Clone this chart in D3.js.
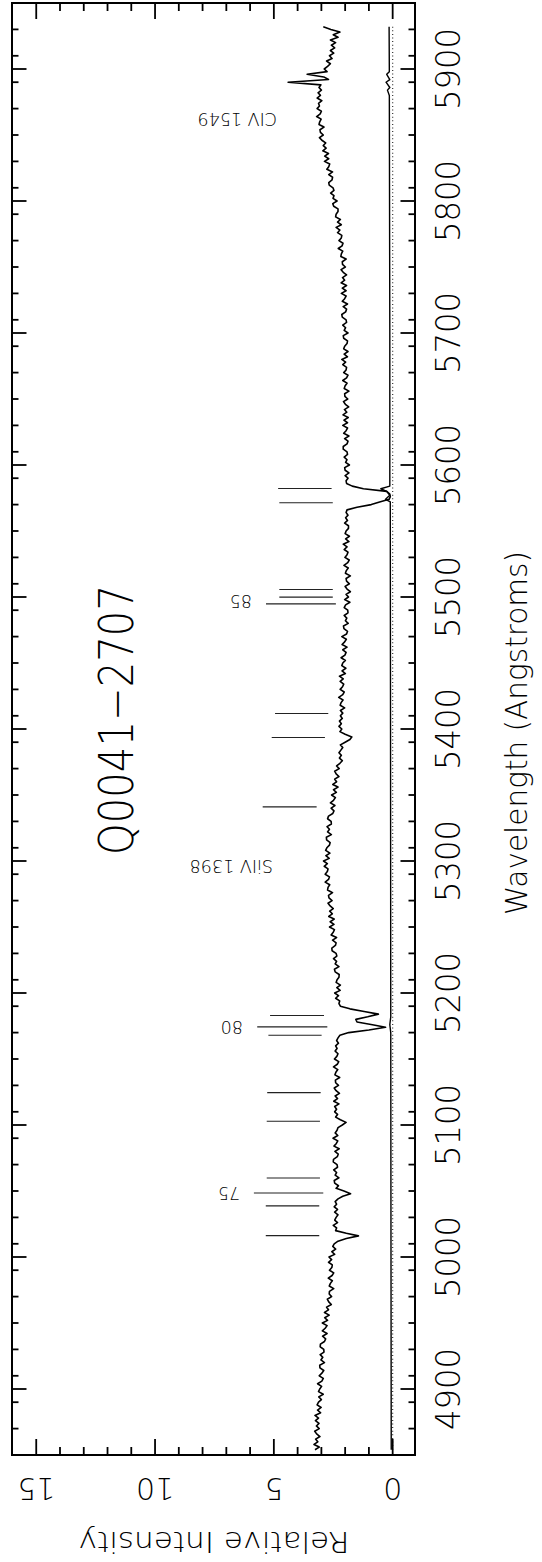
<!DOCTYPE html>
<html>
<head>
<meta charset="utf-8">
<script src="https://cdn.jsdelivr.net/npm/d3@7/dist/d3.min.js"></script>
<style>
  html, body { margin: 0; padding: 0; background: #fff; }
  svg { display: block; }
  text { font-family: "DejaVu Sans ExtraLight", "DejaVu Sans", "Liberation Sans", sans-serif; font-weight: 200; fill: #000; }
</style>
</head>
<body>
<svg id="chart" width="542" height="1562"></svg>
<script>
// ---------------- data ----------------
const titleText = "Q0041\u22122707";
const xAxisTitle = "Wavelength (Angstroms)";
const yAxisTitle = "Relative  Intensity";

const waveDomain = [4850, 5950];
const intensDomain = [-0.94, 16.02];
const waveMajorTicks = [4900, 5000, 5100, 5200, 5300, 5400, 5500, 5600, 5700, 5800, 5900];
const waveMinorStep = 20;
const intensMajorTicks = [0, 5, 10, 15];
const intensMinorStep = 1;

// spectrum: first wavelength and sampling step (Angstrom), then flux values
const waveStart = 4854;
const waveStep = 2;
const flux = [
  3.27,3.09,3.31,3.15,3.24,3.06,3.20,3.28,3.09,3.21,
  3.10,3.25,3.12,3.27,3.03,3.16,3.01,3.18,3.12,3.00,
  3.11,2.92,3.12,3.07,2.99,3.16,2.98,2.92,3.09,2.98,
  2.90,3.06,3.07,2.87,3.02,2.94,3.05,2.89,2.90,3.05,
  3.04,2.87,2.82,2.95,2.76,2.96,2.84,2.76,2.96,2.74,
  2.86,2.67,2.87,2.70,2.78,2.58,2.69,2.75,2.57,2.67,
  2.66,2.48,2.67,2.62,2.54,2.71,2.55,2.48,2.66,2.56,
  2.54,2.70,2.57,2.68,2.44,2.56,2.40,2.52,2.46,2.30,
  1.95,1.44,1.95,2.40,2.36,2.50,2.32,2.44,2.38,2.30,
  2.44,2.32,2.46,2.36,2.42,2.30,2.10,1.77,2.05,2.38,
  2.28,2.44,2.46,2.26,2.42,2.36,2.48,2.32,2.34,2.50,
  2.49,2.33,2.29,2.43,2.25,2.47,2.37,2.31,2.51,2.31,
  2.42,2.34,2.30,2.12,1.96,2.20,2.40,2.32,2.44,2.36,
  2.44,2.26,2.48,2.32,2.42,2.24,2.38,2.46,2.28,2.40,
  2.41,2.23,2.43,2.39,2.31,2.49,2.33,2.27,2.45,2.35,
  2.30,2.42,2.34,2.40,2.28,2.36,2.30,2.22,1.85,1.00,
  0.30,0.85,1.50,1.55,1.05,0.60,1.20,1.80,2.20,2.26,
  2.23,2.40,2.28,2.44,2.21,2.35,2.20,2.38,2.34,2.26,
  2.25,2.42,2.45,2.26,2.42,2.36,2.49,2.35,2.38,2.55,
  2.56,2.41,2.38,2.53,2.36,2.59,2.50,2.45,2.66,2.47,
  2.63,2.46,2.69,2.54,2.65,2.50,2.63,2.72,2.55,2.68,
  2.70,2.53,2.74,2.72,2.65,2.84,2.70,2.66,2.84,2.75,
  2.72,2.88,2.75,2.91,2.67,2.81,2.64,2.82,2.77,2.66,
  2.63,2.78,2.79,2.58,2.74,2.66,2.76,2.58,2.59,2.74,
  2.70,2.52,2.47,2.59,2.43,2.62,2.49,2.41,2.57,2.37,
  2.49,2.30,2.52,2.36,2.44,2.26,2.38,2.44,2.25,2.36,
  2.22,2.12,2.24,2.16,2.26,2.18,2.10,2.20,2.00,1.80,
  1.72,2.00,2.22,2.14,2.26,2.16,2.24,2.12,2.20,2.10,
  2.20,2.02,2.21,2.17,2.09,2.27,2.10,2.04,2.21,2.11,
  2.06,2.21,2.08,2.24,1.99,2.13,1.97,2.14,2.10,1.99,
  2.17,2.01,1.96,2.10,1.92,2.13,2.02,1.95,2.14,1.94,
  1.90,2.05,2.07,1.87,1.99,1.93,2.04,1.88,1.89,2.04,
  1.98,1.80,2.02,1.86,1.96,1.78,1.92,2.00,1.82,1.94,
  1.96,1.78,1.99,1.95,1.87,2.05,1.89,1.83,2.01,1.92,
  1.88,2.04,1.92,2.08,1.84,1.98,1.82,2.00,1.96,1.86,
  1.86,2.02,1.90,1.98,1.88,1.96,1.92,1.50,0.90,0.55,
  0.15,0.10,0.12,0.25,1.23,1.70,1.94,1.96,1.88,2.00,
  1.84,2.00,2.02,1.82,1.98,1.92,2.04,1.90,1.92,2.08,
  2.08,1.92,1.88,2.02,1.84,2.06,1.96,1.90,2.10,1.90,
  2.05,1.87,2.09,1.93,2.03,1.85,1.99,2.07,1.89,2.01,
  2.02,1.84,2.04,2.00,1.92,2.10,1.94,1.88,2.06,1.96,
  1.94,2.10,1.98,2.14,1.90,2.04,1.88,2.06,2.02,1.92,
  1.90,2.06,2.08,1.88,2.04,1.98,2.10,1.94,1.96,2.12,
  2.14,1.98,1.94,2.08,1.90,2.12,2.02,1.96,2.16,1.96,
  2.12,1.94,2.17,2.02,2.11,1.94,2.08,2.17,1.99,2.11,
  2.12,1.96,2.18,2.16,2.10,2.29,2.13,2.09,2.26,2.16,
  2.14,2.32,2.22,2.38,2.16,2.32,2.20,2.40,2.38,2.30,
  2.30,2.48,2.52,2.34,2.51,2.47,2.61,2.47,2.51,2.67,
  2.69,2.55,2.53,2.69,2.53,2.77,2.69,2.65,2.87,2.69,
  2.86,2.70,2.94,2.80,2.92,2.82,2.98,3.08,2.92,3.04,
  3.06,2.89,3.10,3.07,3.01,3.20,3.05,3.00,3.18,3.08,
  3.12,2.98,3.18,3.04,3.14,3.00,3.10,3.02,4.40,2.70,
  2.90,3.60,2.76,2.88,2.74,2.62,2.78,2.55,2.66,2.48,
  2.62,2.44,2.58,2.40,2.62,2.30,2.50,2.22,2.60,2.92
];

// error (sigma) spectrum
const errWave = [4854, 5000, 5170, 5176, 5182, 5400, 5560, 5572, 5574, 5577, 5580, 5582, 5584, 5700, 5880, 5884, 5886, 5890, 5892, 5896, 5898, 5932];
const errVals = [0.06, 0.07, 0.08, 0.12, 0.08, 0.09, 0.10, 0.10, 0.30, 0.12, 0.25, 0.50, 0.12, 0.12, 0.14, 0.22, 0.12, 0.28, 0.12, 0.25, 0.14, 0.15];

// absorption line markers (wavelength, low and high intensity of tick)
const markerWave = [5016.2, 5038.7, 5048.5, 5059.9, 5102.8, 5124.5, 5168.0, 5174.3, 5182.9, 5341.0, 5393.6, 5411.7, 5494.8, 5499.9, 5505.7, 5571.4, 5582.2];
const markerLow  = [3.09, 3.09, 2.92, 3.06, 3.06, 3.03, 2.99, 2.75, 2.89, 3.20, 2.85, 2.71, 2.39, 2.52, 2.52, 2.52, 2.57];
const markerHigh = [5.34, 5.34, 5.84, 5.30, 5.30, 5.28, 5.23, 5.70, 5.16, 5.47, 5.09, 4.95, 5.33, 4.77, 4.77, 4.77, 4.82];

// line identification labels
const labelText  = ["CIV 1549", "SiIV 1398", "85", "80", "75"];
const labelWave  = [5862, 5296, 5497, 5174.3, 5048.5];
const labelLevel = [4.87, 5.04, 5.92, 6.30, 6.42];

// ---------------- drawing ----------------
const svg = d3.select("#chart");
const frame = { left: 12, right: 415, top: 3, bottom: 1455 };

// wavelength runs up the page, intensity runs right-to-left
const yW = d3.scaleLinear().domain(waveDomain).range([frame.bottom, frame.top]);
const xI = d3.scaleLinear().domain(intensDomain).range([frame.right, frame.left]);

svg.append("rect").attr("width", 542).attr("height", 1562).attr("fill", "#fff");

const spec = flux.map((f, i) => ({ w: waveStart + i * waveStep, f }));
const err = errWave.map((w, i) => ({ w, f: errVals[i] }));
const line = d3.line().x(d => xI(d.f)).y(d => yW(d.w));

// zero level dotted line
svg.append("line")
  .attr("x1", xI(0)).attr("x2", xI(0))
  .attr("y1", yW(spec[0].w)).attr("y2", yW(spec[spec.length - 1].w))
  .attr("stroke", "#333").attr("stroke-width", 1.2)
  .attr("stroke-dasharray", "1 2.6");

// error spectrum
svg.append("path").datum(err).attr("d", line)
  .attr("fill", "none").attr("stroke", "#000").attr("stroke-width", 1.4)
  .attr("stroke-linejoin", "round");

// spectrum
svg.append("path").datum(spec).attr("d", line)
  .attr("fill", "none").attr("stroke", "#000").attr("stroke-width", 1.6)
  .attr("stroke-linejoin", "round");

// markers
svg.append("g").selectAll("line").data(markerWave).join("line")
  .attr("x1", (w, i) => xI(markerLow[i])).attr("x2", (w, i) => xI(markerHigh[i]))
  .attr("y1", w => yW(w)).attr("y2", w => yW(w))
  .attr("stroke", "#222").attr("stroke-width", 1.1);

// labels (upside-down)
svg.append("g").selectAll("text").data(labelText).join("text")
  .attr("transform", (t, i) => `translate(${xI(labelLevel[i])},${yW(labelWave[i])}) rotate(180)`)
  .attr("dy", "0.36em")
  .attr("text-anchor", "start")
  .style("font-size", "17.5px")
  .text(t => t);

// frame
svg.append("rect")
  .attr("x", frame.left).attr("y", frame.top)
  .attr("width", frame.right - frame.left).attr("height", frame.bottom - frame.top)
  .attr("fill", "none").attr("stroke", "#000").attr("stroke-width", 2);

// wavelength ticks (left and right edges)
const waveMinor = d3.range(waveDomain[0] + waveMinorStep, waveDomain[1], waveMinorStep)
  .filter(v => !waveMajorTicks.includes(v));
const tg = svg.append("g").attr("stroke", "#000").attr("stroke-width", 1.8);
function waveTicks(vals, len) {
  vals.forEach(v => {
    tg.append("line").attr("x1", frame.left).attr("x2", frame.left + len).attr("y1", yW(v)).attr("y2", yW(v));
    tg.append("line").attr("x1", frame.right).attr("x2", frame.right - len).attr("y1", yW(v)).attr("y2", yW(v));
  });
}
waveTicks(waveMinor, 6.5);
waveTicks(waveMajorTicks, 14.5);

// intensity ticks (top and bottom edges)
const intensMinor = d3.range(Math.ceil(intensDomain[0]), Math.floor(intensDomain[1]) + 1, intensMinorStep)
  .filter(v => !intensMajorTicks.includes(v) && xI(v) > frame.left + 2 && xI(v) < frame.right - 2);
function intensTicks(vals, len) {
  vals.forEach(v => {
    tg.append("line").attr("x1", xI(v)).attr("x2", xI(v)).attr("y1", frame.top).attr("y2", frame.top + len);
    tg.append("line").attr("x1", xI(v)).attr("x2", xI(v)).attr("y1", frame.bottom).attr("y2", frame.bottom - len);
  });
}
intensTicks(intensMinor, 8);
intensTicks(intensMajorTicks, 16);

// wavelength tick labels (rotated -90)
svg.append("g").selectAll("text").data(waveMajorTicks).join("text")
  .attr("transform", v => `translate(460,${yW(v)}) rotate(-90)`)
  .attr("text-anchor", "middle")
  .attr("textLength", 82).attr("lengthAdjust", "spacingAndGlyphs")
  .style("font-size", "34px")
  .text(v => v);

// intensity tick labels (upside-down)
svg.append("g").selectAll("text").data(intensMajorTicks).join("text")
  .attr("transform", v => `translate(${xI(v)},1478) rotate(180)`)
  .attr("text-anchor", "middle")
  .style("font-size", "30px")
  .text(v => v);

// axis titles
svg.append("text")
  .attr("transform", "translate(527,733) rotate(-90)")
  .attr("text-anchor", "middle")
  .attr("textLength", 364).attr("lengthAdjust", "spacingAndGlyphs")
  .style("font-size", "31px")
  .text(xAxisTitle);

svg.append("text")
  .attr("transform", "translate(214,1532) rotate(180)")
  .attr("text-anchor", "middle")
  .attr("textLength", 271).attr("lengthAdjust", "spacingAndGlyphs")
  .style("font-size", "29px")
  .text(yAxisTitle);

// object name
svg.append("text")
  .attr("transform", "translate(133,720) rotate(-90)")
  .attr("text-anchor", "middle")
  .attr("textLength", 270).attr("lengthAdjust", "spacingAndGlyphs")
  .style("font-size", "48px")
  .text(titleText);
</script>
</body>
</html>
